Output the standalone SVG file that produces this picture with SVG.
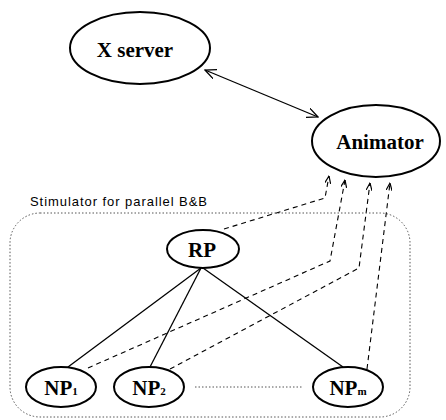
<svg xmlns="http://www.w3.org/2000/svg" width="446" height="420" viewBox="0 0 446 420">
<defs>
<marker id="open" viewBox="0 0 12 10" refX="11" refY="5" markerWidth="12" markerHeight="10" markerUnits="userSpaceOnUse" orient="auto-start-reverse">
<path d="M0,0 L11,5 L0,10" fill="none" stroke="#000" stroke-width="1.3"/>
</marker>
<marker id="small" viewBox="0 0 8 6" refX="7.5" refY="3" markerWidth="8" markerHeight="6" markerUnits="userSpaceOnUse" orient="auto">
<path d="M0,0 L7.5,3 L0,6" fill="none" stroke="#000" stroke-width="1.2"/>
</marker>
</defs>
<style>
.node{fill:#fff;stroke:#000;stroke-width:2}
.lbl{font-family:"Liberation Serif","DejaVu Serif",serif;font-weight:bold;font-size:21px;text-anchor:middle;fill:#000}
.sub{font-size:11px}
.solid{fill:none;stroke:#000;stroke-width:1.3}
.dash{fill:none;stroke:#000;stroke-width:1.1;stroke-dasharray:5,4}
.dot{fill:none;stroke:#555;stroke-width:1;stroke-dasharray:1.5,2}
</style>
<rect width="446" height="420" fill="#fff"/>
<g id="group-frame">
<rect x="10" y="213" width="400" height="204" rx="30" ry="30" class="dot"/>
<text x="30" y="206" font-family="Liberation Sans, Arial, sans-serif" font-size="13" textLength="177" fill="#000">Stimulator for parallel B&amp;B</text>
</g>
<g id="connectors">
<line x1="205" y1="70" x2="318" y2="117" class="solid" marker-start="url(#open)" marker-end="url(#open)"/>
<line x1="201" y1="268" x2="68" y2="367" class="solid"/>
<line x1="201" y1="268" x2="150" y2="367" class="solid"/>
<line x1="203" y1="268" x2="343" y2="367" class="solid"/>
<line x1="195" y1="387" x2="302" y2="387" class="dot" stroke="#000"/>
<polyline points="224,229 325,198 329,176" class="dash" marker-end="url(#small)"/>
<polyline points="88,368 330,261 345,180" class="dash" marker-end="url(#small)"/>
<polyline points="170,369 359,268 370,183" class="dash" marker-end="url(#small)"/>
<polyline points="367,369 390,183" class="dash" marker-end="url(#small)"/>
</g>
<g id="xserver">
<ellipse cx="140" cy="48" rx="70" ry="36" class="node"/>
<text x="135" y="57" class="lbl">X server</text>
</g>
<g id="animator">
<ellipse cx="376" cy="141" rx="64" ry="36" class="node"/>
<text x="380" y="149" class="lbl">Animator</text>
</g>
<g id="rp">
<ellipse cx="203" cy="249" rx="36" ry="19" class="node"/>
<text x="202" y="257" class="lbl">RP</text>
</g>
<g id="np1">
<ellipse cx="61" cy="387" rx="35" ry="20" class="node"/>
<text x="61" y="395" class="lbl">NP<tspan class="sub">1</tspan></text>
</g>
<g id="np2">
<ellipse cx="149" cy="387" rx="35" ry="20" class="node"/>
<text x="149" y="395" class="lbl">NP<tspan class="sub">2</tspan></text>
</g>
<g id="npm">
<ellipse cx="348" cy="387" rx="35" ry="20" class="node"/>
<text x="348" y="395" class="lbl">NP<tspan class="sub">m</tspan></text>
</g>
</svg>
